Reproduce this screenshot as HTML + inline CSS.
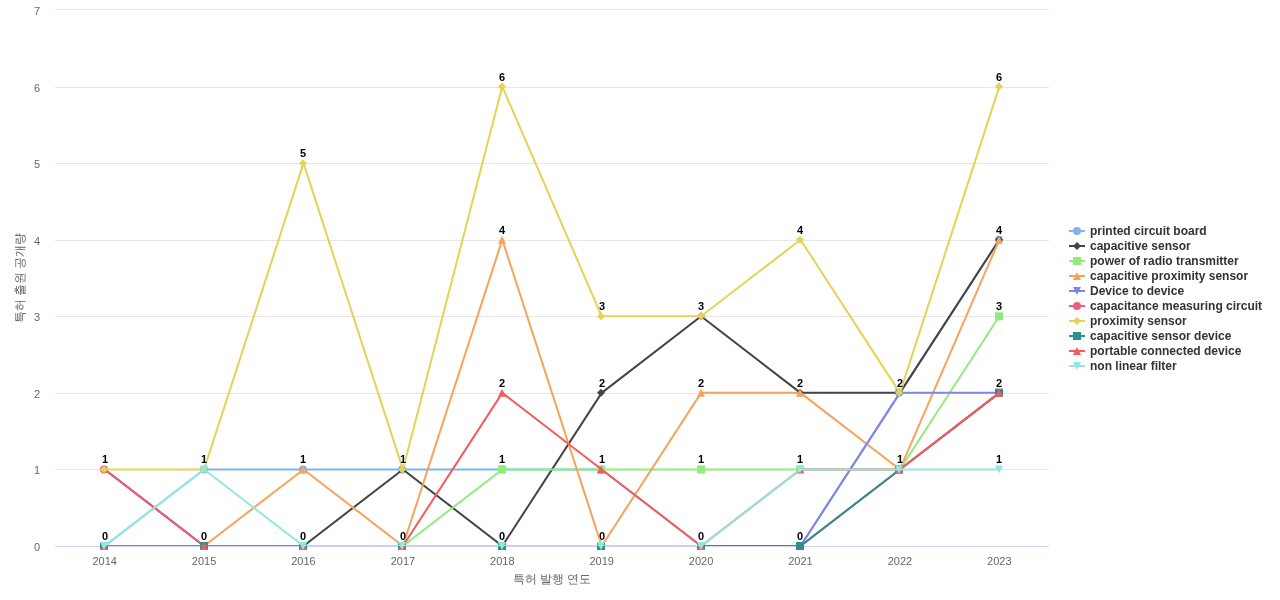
<!DOCTYPE html><html><head><meta charset="utf-8"><style>html,body{margin:0;padding:0;background:#fff;overflow:hidden}svg{display:block;will-change:transform;font-family:"Liberation Sans",sans-serif}</style></head><body>
<svg width="1280" height="600" viewBox="0 0 1280 600">
<rect x="0" y="0" width="1280" height="600" fill="#ffffff"/>
<defs><clipPath id="pc"><rect x="0" y="0" width="994" height="536"/></clipPath></defs>
<path d="M 55 9.5 L 1049 9.5 M 55 87.5 L 1049 87.5 M 55 163.5 L 1049 163.5 M 55 240.5 L 1049 240.5 M 55 316.5 L 1049 316.5 M 55 393.5 L 1049 393.5 M 55 469.5 L 1049 469.5" stroke="#e6e6e6" stroke-width="1" fill="none"/>
<path d="M 55 546.5 L 1049 546.5" stroke="#ccd6eb" stroke-width="1" fill="none"/>
<text x="40" y="15.0" text-anchor="end" font-size="11" fill="#666666">7</text>
<text x="40" y="91.6" text-anchor="end" font-size="11" fill="#666666">6</text>
<text x="40" y="168.1" text-anchor="end" font-size="11" fill="#666666">5</text>
<text x="40" y="244.7" text-anchor="end" font-size="11" fill="#666666">4</text>
<text x="40" y="321.3" text-anchor="end" font-size="11" fill="#666666">3</text>
<text x="40" y="397.9" text-anchor="end" font-size="11" fill="#666666">2</text>
<text x="40" y="474.4" text-anchor="end" font-size="11" fill="#666666">1</text>
<text x="40" y="551.0" text-anchor="end" font-size="11" fill="#666666">0</text>
<text x="104.7" y="565" text-anchor="middle" font-size="11" fill="#666666">2014</text>
<text x="204.1" y="565" text-anchor="middle" font-size="11" fill="#666666">2015</text>
<text x="303.5" y="565" text-anchor="middle" font-size="11" fill="#666666">2016</text>
<text x="402.9" y="565" text-anchor="middle" font-size="11" fill="#666666">2017</text>
<text x="502.3" y="565" text-anchor="middle" font-size="11" fill="#666666">2018</text>
<text x="601.7" y="565" text-anchor="middle" font-size="11" fill="#666666">2019</text>
<text x="701.1" y="565" text-anchor="middle" font-size="11" fill="#666666">2020</text>
<text x="800.5" y="565" text-anchor="middle" font-size="11" fill="#666666">2021</text>
<text x="899.9" y="565" text-anchor="middle" font-size="11" fill="#666666">2022</text>
<text x="999.3" y="565" text-anchor="middle" font-size="11" fill="#666666">2023</text>
<text x="552" y="583" text-anchor="middle" font-size="12" fill="#666666">특허 발행 연도</text>
<text x="0" y="0" transform="translate(24,278) rotate(-90)" text-anchor="middle" font-size="12" fill="#666666">특허 출원 공개량</text>
<g transform="translate(55,10)">
<g clip-path="url(#pc)"><path d="M 49.70 536.000 L 149.10 459.429 L 248.50 459.429 L 347.90 459.429 L 447.30 459.429 L 546.70 459.429 L 646.10 536.000 L 745.50 536.000 L 844.90 382.857 L 944.30 229.714" stroke="#7cb5ec" stroke-width="2" fill="none" stroke-linejoin="round" stroke-linecap="round"/></g>
<g><circle cx="49" cy="536.000" r="4" fill="#7cb5ec"/><circle cx="149" cy="459.429" r="4" fill="#7cb5ec"/><circle cx="248" cy="459.429" r="4" fill="#7cb5ec"/><circle cx="347" cy="459.429" r="4" fill="#7cb5ec"/><circle cx="447" cy="459.429" r="4" fill="#7cb5ec"/><circle cx="546" cy="459.429" r="4" fill="#7cb5ec"/><circle cx="646" cy="536.000" r="4" fill="#7cb5ec"/><circle cx="745" cy="536.000" r="4" fill="#7cb5ec"/><circle cx="844" cy="382.857" r="4" fill="#7cb5ec"/><circle cx="944" cy="229.714" r="4" fill="#7cb5ec"/></g>
<g clip-path="url(#pc)"><path d="M 49.70 459.429 L 149.10 536.000 L 248.50 536.000 L 347.90 459.429 L 447.30 536.000 L 546.70 382.857 L 646.10 306.286 L 745.50 382.857 L 844.90 382.857 L 944.30 229.714" stroke="#434348" stroke-width="2" fill="none" stroke-linejoin="round" stroke-linecap="round"/></g>
<g><path d="M 49 455.429 L 53 459.429 L 49 463.429 L 45 459.429 Z" fill="#434348"/><path d="M 149 532.000 L 153 536.000 L 149 540.000 L 145 536.000 Z" fill="#434348"/><path d="M 248 532.000 L 252 536.000 L 248 540.000 L 244 536.000 Z" fill="#434348"/><path d="M 347 455.429 L 351 459.429 L 347 463.429 L 343 459.429 Z" fill="#434348"/><path d="M 447 532.000 L 451 536.000 L 447 540.000 L 443 536.000 Z" fill="#434348"/><path d="M 546 378.857 L 550 382.857 L 546 386.857 L 542 382.857 Z" fill="#434348"/><path d="M 646 302.286 L 650 306.286 L 646 310.286 L 642 306.286 Z" fill="#434348"/><path d="M 745 378.857 L 749 382.857 L 745 386.857 L 741 382.857 Z" fill="#434348"/><path d="M 844 378.857 L 848 382.857 L 844 386.857 L 840 382.857 Z" fill="#434348"/><path d="M 944 225.714 L 948 229.714 L 944 233.714 L 940 229.714 Z" fill="#434348"/></g>
<g clip-path="url(#pc)"><path d="M 49.70 536.000 L 149.10 536.000 L 248.50 536.000 L 347.90 536.000 L 447.30 459.429 L 546.70 459.429 L 646.10 459.429 L 745.50 459.429 L 844.90 459.429 L 944.30 306.286" stroke="#90ed7d" stroke-width="2" fill="none" stroke-linejoin="round" stroke-linecap="round"/></g>
<g><rect x="45" y="532.000" width="8" height="8" fill="#90ed7d"/><rect x="145" y="532.000" width="8" height="8" fill="#90ed7d"/><rect x="244" y="532.000" width="8" height="8" fill="#90ed7d"/><rect x="343" y="532.000" width="8" height="8" fill="#90ed7d"/><rect x="443" y="455.429" width="8" height="8" fill="#90ed7d"/><rect x="542" y="455.429" width="8" height="8" fill="#90ed7d"/><rect x="642" y="455.429" width="8" height="8" fill="#90ed7d"/><rect x="741" y="455.429" width="8" height="8" fill="#90ed7d"/><rect x="840" y="455.429" width="8" height="8" fill="#90ed7d"/><rect x="940" y="302.286" width="8" height="8" fill="#90ed7d"/></g>
<g clip-path="url(#pc)"><path d="M 49.70 536.000 L 149.10 536.000 L 248.50 459.429 L 347.90 536.000 L 447.30 229.714 L 546.70 536.000 L 646.10 382.857 L 745.50 382.857 L 844.90 459.429 L 944.30 229.714" stroke="#f7a35c" stroke-width="2" fill="none" stroke-linejoin="round" stroke-linecap="round"/></g>
<g><path d="M 49 532.000 L 53 540.000 L 45 540.000 Z" fill="#f7a35c"/><path d="M 149 532.000 L 153 540.000 L 145 540.000 Z" fill="#f7a35c"/><path d="M 248 455.429 L 252 463.429 L 244 463.429 Z" fill="#f7a35c"/><path d="M 347 532.000 L 351 540.000 L 343 540.000 Z" fill="#f7a35c"/><path d="M 447 225.714 L 451 233.714 L 443 233.714 Z" fill="#f7a35c"/><path d="M 546 532.000 L 550 540.000 L 542 540.000 Z" fill="#f7a35c"/><path d="M 646 378.857 L 650 386.857 L 642 386.857 Z" fill="#f7a35c"/><path d="M 745 378.857 L 749 386.857 L 741 386.857 Z" fill="#f7a35c"/><path d="M 844 455.429 L 848 463.429 L 840 463.429 Z" fill="#f7a35c"/><path d="M 944 225.714 L 948 233.714 L 940 233.714 Z" fill="#f7a35c"/></g>
<g clip-path="url(#pc)"><path d="M 49.70 536.000 L 149.10 536.000 L 248.50 536.000 L 347.90 536.000 L 447.30 536.000 L 546.70 536.000 L 646.10 536.000 L 745.50 536.000 L 844.90 382.857 L 944.30 382.857" stroke="#8085e9" stroke-width="2" fill="none" stroke-linejoin="round" stroke-linecap="round"/></g>
<g><path d="M 45 532.000 L 53 532.000 L 49 540.000 Z" fill="#8085e9"/><path d="M 145 532.000 L 153 532.000 L 149 540.000 Z" fill="#8085e9"/><path d="M 244 532.000 L 252 532.000 L 248 540.000 Z" fill="#8085e9"/><path d="M 343 532.000 L 351 532.000 L 347 540.000 Z" fill="#8085e9"/><path d="M 443 532.000 L 451 532.000 L 447 540.000 Z" fill="#8085e9"/><path d="M 542 532.000 L 550 532.000 L 546 540.000 Z" fill="#8085e9"/><path d="M 642 532.000 L 650 532.000 L 646 540.000 Z" fill="#8085e9"/><path d="M 741 532.000 L 749 532.000 L 745 540.000 Z" fill="#8085e9"/><path d="M 840 378.857 L 848 378.857 L 844 386.857 Z" fill="#8085e9"/><path d="M 940 378.857 L 948 378.857 L 944 386.857 Z" fill="#8085e9"/></g>
<g clip-path="url(#pc)"><path d="M 49.70 459.429 L 149.10 536.000 L 248.50 536.000 L 347.90 536.000 L 447.30 536.000 L 546.70 536.000 L 646.10 536.000 L 745.50 536.000 L 844.90 459.429 L 944.30 382.857" stroke="#f15c80" stroke-width="2" fill="none" stroke-linejoin="round" stroke-linecap="round"/></g>
<g><circle cx="49" cy="459.429" r="4" fill="#f15c80"/><circle cx="149" cy="536.000" r="4" fill="#f15c80"/><circle cx="248" cy="536.000" r="4" fill="#f15c80"/><circle cx="347" cy="536.000" r="4" fill="#f15c80"/><circle cx="447" cy="536.000" r="4" fill="#f15c80"/><circle cx="546" cy="536.000" r="4" fill="#f15c80"/><circle cx="646" cy="536.000" r="4" fill="#f15c80"/><circle cx="745" cy="536.000" r="4" fill="#f15c80"/><circle cx="844" cy="459.429" r="4" fill="#f15c80"/><circle cx="944" cy="382.857" r="4" fill="#f15c80"/></g>
<g clip-path="url(#pc)"><path d="M 49.70 459.429 L 149.10 459.429 L 248.50 153.143 L 347.90 459.429 L 447.30 76.571 L 546.70 306.286 L 646.10 306.286 L 745.50 229.714 L 844.90 382.857 L 944.30 76.571" stroke="#e4d354" stroke-width="2" fill="none" stroke-linejoin="round" stroke-linecap="round"/></g>
<g><path d="M 49 455.429 L 53 459.429 L 49 463.429 L 45 459.429 Z" fill="#e4d354"/><path d="M 149 455.429 L 153 459.429 L 149 463.429 L 145 459.429 Z" fill="#e4d354"/><path d="M 248 149.143 L 252 153.143 L 248 157.143 L 244 153.143 Z" fill="#e4d354"/><path d="M 347 455.429 L 351 459.429 L 347 463.429 L 343 459.429 Z" fill="#e4d354"/><path d="M 447 72.571 L 451 76.571 L 447 80.571 L 443 76.571 Z" fill="#e4d354"/><path d="M 546 302.286 L 550 306.286 L 546 310.286 L 542 306.286 Z" fill="#e4d354"/><path d="M 646 302.286 L 650 306.286 L 646 310.286 L 642 306.286 Z" fill="#e4d354"/><path d="M 745 225.714 L 749 229.714 L 745 233.714 L 741 229.714 Z" fill="#e4d354"/><path d="M 844 378.857 L 848 382.857 L 844 386.857 L 840 382.857 Z" fill="#e4d354"/><path d="M 944 72.571 L 948 76.571 L 944 80.571 L 940 76.571 Z" fill="#e4d354"/></g>
<g clip-path="url(#pc)"><path d="M 49.70 536.000 L 149.10 536.000 L 248.50 536.000 L 347.90 536.000 L 447.30 536.000 L 546.70 536.000 L 646.10 536.000 L 745.50 536.000 L 844.90 459.429 L 944.30 382.857" stroke="#2b908f" stroke-width="2" fill="none" stroke-linejoin="round" stroke-linecap="round"/></g>
<g><rect x="45" y="532.000" width="8" height="8" fill="#2b908f"/><rect x="145" y="532.000" width="8" height="8" fill="#2b908f"/><rect x="244" y="532.000" width="8" height="8" fill="#2b908f"/><rect x="343" y="532.000" width="8" height="8" fill="#2b908f"/><rect x="443" y="532.000" width="8" height="8" fill="#2b908f"/><rect x="542" y="532.000" width="8" height="8" fill="#2b908f"/><rect x="642" y="532.000" width="8" height="8" fill="#2b908f"/><rect x="741" y="532.000" width="8" height="8" fill="#2b908f"/><rect x="840" y="455.429" width="8" height="8" fill="#2b908f"/><rect x="940" y="378.857" width="8" height="8" fill="#2b908f"/></g>
<g clip-path="url(#pc)"><path d="M 49.70 536.000 L 149.10 536.000 L 248.50 536.000 L 347.90 536.000 L 447.30 382.857 L 546.70 459.429 L 646.10 536.000 L 745.50 459.429 L 844.90 459.429 L 944.30 382.857" stroke="#f45b5b" stroke-width="2" fill="none" stroke-linejoin="round" stroke-linecap="round"/></g>
<g><path d="M 49 532.000 L 53 540.000 L 45 540.000 Z" fill="#f45b5b"/><path d="M 149 532.000 L 153 540.000 L 145 540.000 Z" fill="#f45b5b"/><path d="M 248 532.000 L 252 540.000 L 244 540.000 Z" fill="#f45b5b"/><path d="M 347 532.000 L 351 540.000 L 343 540.000 Z" fill="#f45b5b"/><path d="M 447 378.857 L 451 386.857 L 443 386.857 Z" fill="#f45b5b"/><path d="M 546 455.429 L 550 463.429 L 542 463.429 Z" fill="#f45b5b"/><path d="M 646 532.000 L 650 540.000 L 642 540.000 Z" fill="#f45b5b"/><path d="M 745 455.429 L 749 463.429 L 741 463.429 Z" fill="#f45b5b"/><path d="M 844 455.429 L 848 463.429 L 840 463.429 Z" fill="#f45b5b"/><path d="M 944 378.857 L 948 386.857 L 940 386.857 Z" fill="#f45b5b"/></g>
<g clip-path="url(#pc)"><path d="M 49.70 536.000 L 149.10 459.429 L 248.50 536.000 L 347.90 536.000 L 447.30 536.000 L 546.70 536.000 L 646.10 536.000 L 745.50 459.429 L 844.90 459.429 L 944.30 459.429" stroke="#91e8e1" stroke-width="2" fill="none" stroke-linejoin="round" stroke-linecap="round"/></g>
<g><path d="M 45 532.000 L 53 532.000 L 49 540.000 Z" fill="#91e8e1"/><path d="M 145 455.429 L 153 455.429 L 149 463.429 Z" fill="#91e8e1"/><path d="M 244 532.000 L 252 532.000 L 248 540.000 Z" fill="#91e8e1"/><path d="M 343 532.000 L 351 532.000 L 347 540.000 Z" fill="#91e8e1"/><path d="M 443 532.000 L 451 532.000 L 447 540.000 Z" fill="#91e8e1"/><path d="M 542 532.000 L 550 532.000 L 546 540.000 Z" fill="#91e8e1"/><path d="M 642 532.000 L 650 532.000 L 646 540.000 Z" fill="#91e8e1"/><path d="M 741 455.429 L 749 455.429 L 745 463.429 Z" fill="#91e8e1"/><path d="M 840 455.429 L 848 455.429 L 844 463.429 Z" fill="#91e8e1"/><path d="M 940 455.429 L 948 455.429 L 944 463.429 Z" fill="#91e8e1"/></g>
</g>
<g transform="translate(55,10)" font-size="11" font-weight="bold" fill="#000000" text-anchor="start">
<text x="47.00" y="530.00" stroke="#ffffff" stroke-width="1" stroke-linejoin="round" paint-order="stroke">0</text>
<text x="146.00" y="453.43" stroke="#ffffff" stroke-width="1" stroke-linejoin="round" paint-order="stroke">1</text>
<text x="245.00" y="453.43" stroke="#ffffff" stroke-width="1" stroke-linejoin="round" paint-order="stroke">1</text>
<text x="345.00" y="453.43" stroke="#ffffff" stroke-width="1" stroke-linejoin="round" paint-order="stroke">1</text>
<text x="444.00" y="453.43" stroke="#ffffff" stroke-width="1" stroke-linejoin="round" paint-order="stroke">1</text>
<text x="544.00" y="453.43" stroke="#ffffff" stroke-width="1" stroke-linejoin="round" paint-order="stroke">1</text>
<text x="643.00" y="530.00" stroke="#ffffff" stroke-width="1" stroke-linejoin="round" paint-order="stroke">0</text>
<text x="742.00" y="530.00" stroke="#ffffff" stroke-width="1" stroke-linejoin="round" paint-order="stroke">0</text>
<text x="842.00" y="376.86" stroke="#ffffff" stroke-width="1" stroke-linejoin="round" paint-order="stroke">2</text>
<text x="941.00" y="223.71" stroke="#ffffff" stroke-width="1" stroke-linejoin="round" paint-order="stroke">4</text>
<text x="47.00" y="453.43" stroke="#ffffff" stroke-width="1" stroke-linejoin="round" paint-order="stroke">1</text>
<text x="146.00" y="530.00" stroke="#ffffff" stroke-width="1" stroke-linejoin="round" paint-order="stroke">0</text>
<text x="245.00" y="530.00" stroke="#ffffff" stroke-width="1" stroke-linejoin="round" paint-order="stroke">0</text>
<text x="444.00" y="530.00" stroke="#ffffff" stroke-width="1" stroke-linejoin="round" paint-order="stroke">0</text>
<text x="544.00" y="376.86" stroke="#ffffff" stroke-width="1" stroke-linejoin="round" paint-order="stroke">2</text>
<text x="643.00" y="300.29" stroke="#ffffff" stroke-width="1" stroke-linejoin="round" paint-order="stroke">3</text>
<text x="742.00" y="376.86" stroke="#ffffff" stroke-width="1" stroke-linejoin="round" paint-order="stroke">2</text>
<text x="345.00" y="530.00" stroke="#ffffff" stroke-width="1" stroke-linejoin="round" paint-order="stroke">0</text>
<text x="643.00" y="453.43" stroke="#ffffff" stroke-width="1" stroke-linejoin="round" paint-order="stroke">1</text>
<text x="742.00" y="453.43" stroke="#ffffff" stroke-width="1" stroke-linejoin="round" paint-order="stroke">1</text>
<text x="842.00" y="453.43" stroke="#ffffff" stroke-width="1" stroke-linejoin="round" paint-order="stroke">1</text>
<text x="941.00" y="300.29" stroke="#ffffff" stroke-width="1" stroke-linejoin="round" paint-order="stroke">3</text>
<text x="444.00" y="223.71" stroke="#ffffff" stroke-width="1" stroke-linejoin="round" paint-order="stroke">4</text>
<text x="544.00" y="530.00" stroke="#ffffff" stroke-width="1" stroke-linejoin="round" paint-order="stroke">0</text>
<text x="643.00" y="376.86" stroke="#ffffff" stroke-width="1" stroke-linejoin="round" paint-order="stroke">2</text>
<text x="941.00" y="376.86" stroke="#ffffff" stroke-width="1" stroke-linejoin="round" paint-order="stroke">2</text>
<text x="245.00" y="147.14" stroke="#ffffff" stroke-width="1" stroke-linejoin="round" paint-order="stroke">5</text>
<text x="444.00" y="70.57" stroke="#ffffff" stroke-width="1" stroke-linejoin="round" paint-order="stroke">6</text>
<text x="544.00" y="300.29" stroke="#ffffff" stroke-width="1" stroke-linejoin="round" paint-order="stroke">3</text>
<text x="742.00" y="223.71" stroke="#ffffff" stroke-width="1" stroke-linejoin="round" paint-order="stroke">4</text>
<text x="941.00" y="70.57" stroke="#ffffff" stroke-width="1" stroke-linejoin="round" paint-order="stroke">6</text>
<text x="444.00" y="376.86" stroke="#ffffff" stroke-width="1" stroke-linejoin="round" paint-order="stroke">2</text>
<text x="941.00" y="453.43" stroke="#ffffff" stroke-width="1" stroke-linejoin="round" paint-order="stroke">1</text>
</g>
<path d="M 1069 231 L 1085 231" stroke="#7cb5ec" stroke-width="2"/><circle cx="1077" cy="231.000" r="4" fill="#7cb5ec"/><text x="1090" y="235" font-size="12" font-weight="bold" fill="#333333">printed circuit board</text><path d="M 1069 246 L 1085 246" stroke="#434348" stroke-width="2"/><path d="M 1077 242.000 L 1081 246.000 L 1077 250.000 L 1073 246.000 Z" fill="#434348"/><text x="1090" y="250" font-size="12" font-weight="bold" fill="#333333">capacitive sensor</text><path d="M 1069 261 L 1085 261" stroke="#90ed7d" stroke-width="2"/><rect x="1073" y="257.000" width="8" height="8" fill="#90ed7d"/><text x="1090" y="265" font-size="12" font-weight="bold" fill="#333333">power of radio transmitter</text><path d="M 1069 276 L 1085 276" stroke="#f7a35c" stroke-width="2"/><path d="M 1077 272.000 L 1081 280.000 L 1073 280.000 Z" fill="#f7a35c"/><text x="1090" y="280" font-size="12" font-weight="bold" fill="#333333">capacitive proximity sensor</text><path d="M 1069 291 L 1085 291" stroke="#8085e9" stroke-width="2"/><path d="M 1073 287.000 L 1081 287.000 L 1077 295.000 Z" fill="#8085e9"/><text x="1090" y="295" font-size="12" font-weight="bold" fill="#333333">Device to device</text><path d="M 1069 306 L 1085 306" stroke="#f15c80" stroke-width="2"/><circle cx="1077" cy="306.000" r="4" fill="#f15c80"/><text x="1090" y="310" font-size="12" font-weight="bold" fill="#333333">capacitance measuring circuit</text><path d="M 1069 321 L 1085 321" stroke="#e4d354" stroke-width="2"/><path d="M 1077 317.000 L 1081 321.000 L 1077 325.000 L 1073 321.000 Z" fill="#e4d354"/><text x="1090" y="325" font-size="12" font-weight="bold" fill="#333333">proximity sensor</text><path d="M 1069 336 L 1085 336" stroke="#2b908f" stroke-width="2"/><rect x="1073" y="332.000" width="8" height="8" fill="#2b908f"/><text x="1090" y="340" font-size="12" font-weight="bold" fill="#333333">capacitive sensor device</text><path d="M 1069 351 L 1085 351" stroke="#f45b5b" stroke-width="2"/><path d="M 1077 347.000 L 1081 355.000 L 1073 355.000 Z" fill="#f45b5b"/><text x="1090" y="355" font-size="12" font-weight="bold" fill="#333333">portable connected device</text><path d="M 1069 366 L 1085 366" stroke="#91e8e1" stroke-width="2"/><path d="M 1073 362.000 L 1081 362.000 L 1077 370.000 Z" fill="#91e8e1"/><text x="1090" y="370" font-size="12" font-weight="bold" fill="#333333">non linear filter</text>
</svg></body></html>
